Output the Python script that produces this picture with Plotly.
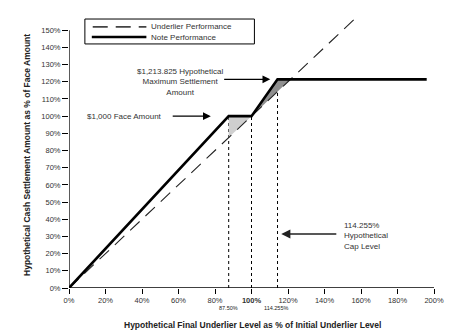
import plotly.graph_objects as go

# Payoff profile data (percent)
buffer_level = 87.5
initial_level = 100.0
cap_level = 114.255
max_settlement = 121.3825

underlier_x = [0, 158]
underlier_y = [0, 158]

note_x = [0, buffer_level, initial_level, cap_level, 196]
note_y = [0, 100, 100, max_settlement, max_settlement]

# Shaded regions between note and underlier
light_x = [buffer_level, initial_level, buffer_level]
light_y = [100, 100, buffer_level]
dark_x = [initial_level, cap_level, max_settlement]
dark_y = [100, max_settlement, max_settlement]

# Axis ticks
y_ticks = list(range(0, 151, 10))
y_ticktext = [f"{v}%" for v in y_ticks]
x_ticks = list(range(0, 201, 20))
x_ticktext = [("<b>100%</b>" if v == 100 else f"{v}%") for v in x_ticks]
extra_x_labels = [(buffer_level, "87.50%"), (cap_level, "114.255%")]

FONT = "Arial, 'Liberation Sans', Helvetica, sans-serif"

fig = go.Figure()

fig.add_trace(go.Scatter(x=light_x, y=light_y, fill="toself", mode="none",
                         fillcolor="#cfcfcf", showlegend=False, hoverinfo="skip"))
fig.add_trace(go.Scatter(x=dark_x, y=dark_y, fill="toself", mode="none",
                         fillcolor="#8f8f8f", showlegend=False, hoverinfo="skip"))

fig.add_trace(go.Scatter(x=underlier_x, y=underlier_y, mode="lines",
                         name="Underlier Performance",
                         line=dict(color="#222222", width=1.1, dash="13px,8px"),
                         showlegend=False))
fig.add_trace(go.Scatter(x=note_x, y=note_y, mode="lines",
                         name="Note Performance",
                         line=dict(color="black", width=2.6),
                         showlegend=False))

shapes = []
# dotted guides from axis up to note payoff
for xv, yv in [(buffer_level, 100), (initial_level, 100), (cap_level, max_settlement)]:
    shapes.append(dict(type="line", x0=xv, x1=xv, y0=0, y1=yv, xref="x", yref="y",
                       line=dict(color="black", width=1, dash="dot"), layer="below"))
# axis lines
shapes.append(dict(type="line", x0=0, x1=200, y0=0, y1=0, xref="x", yref="y",
                   line=dict(color="black", width=1.3)))
shapes.append(dict(type="line", x0=0, x1=0, y0=0, y1=150, xref="x", yref="y",
                   line=dict(color="black", width=1.3)))
# legend box and samples
shapes.append(dict(type="rect", x0=8.7, x1=101.6, y0=142.0, y1=156.5, xref="x", yref="y",
                   line=dict(color="black", width=1), fillcolor="white"))
shapes.append(dict(type="line", x0=13.0, x1=42.4, y0=151.9, y1=151.9, xref="x", yref="y",
                   line=dict(color="#444444", width=1.8, dash="15px,8px")))
shapes.append(dict(type="line", x0=12.5, x1=42.4, y0=146.0, y1=146.0, xref="x", yref="y",
                   line=dict(color="black", width=2.6)))

annotations = []
afont = dict(family=FONT, size=8, color="#333333")
annotations.append(dict(x=44.0, y=151.9, xref="x", yref="y", text="Underlier Performance",
                        showarrow=False, xanchor="left", yanchor="middle", font=afont))
annotations.append(dict(x=44.0, y=146.0, xref="x", yref="y", text="Note Performance",
                        showarrow=False, xanchor="left", yanchor="middle", font=afont))

# callouts
annotations.append(dict(x=61.0, y=120.0, xref="x", yref="y",
                        text="$1,213.825 Hypothetical<br>Maximum Settlement<br>Amount",
                        showarrow=False, align="center", font=afont))
annotations.append(dict(x=110.3, y=max_settlement, ax=84.2, ay=max_settlement,
                        xref="x", yref="y", axref="x", ayref="y", text="",
                        showarrow=True, arrowhead=2, arrowsize=1.3, arrowwidth=1.2,
                        arrowcolor="black"))
annotations.append(dict(x=51.8, y=100, xref="x", yref="y", text="$1,000 Face Amount",
                        showarrow=False, xanchor="right", font=afont))
annotations.append(dict(x=77.7, y=100, ax=56.0, ay=100, xref="x", yref="y",
                        axref="x", ayref="y", text="", showarrow=True, arrowhead=2,
                        arrowsize=1.3, arrowwidth=1.2, arrowcolor="black"))
annotations.append(dict(x=149.5, y=30.5, xref="x", yref="y",
                        text="114.255%<br>Hypothetical<br>Cap Level",
                        showarrow=False, xanchor="left", align="left", font=afont))
annotations.append(dict(x=116.3, y=31.4, ax=147.3, ay=31.4, xref="x", yref="y",
                        axref="x", ayref="y", text="", showarrow=True, arrowhead=2,
                        arrowsize=1.3, arrowwidth=1.4, arrowcolor="#222222"))

# extra level labels below the x axis
for xv, txt in extra_x_labels:
    annotations.append(dict(x=xv, y=-0.056, xref="x", yref="paper", text=txt,
                            showarrow=False, yanchor="top",
                            xanchor="center" if xv < 100 else "right",
                            xshift=0 if xv < 100 else 12,
                            font=dict(family=FONT, size=5.5, color="#222222")))

# axis titles
annotations.append(dict(x=-0.136, y=0.485, xref="paper", yref="paper",
                        text="<b>Hypothetical Cash Settlement Amount as % of Face Amount</b>",
                        textangle=-90, showarrow=False,
                        font=dict(family=FONT, size=8.5, color="#222222")))
annotations.append(dict(x=0.503, y=-0.135, xref="paper", yref="paper",
                        text="<b>Hypothetical Final Underlier Level as % of Initial Underlier Level</b>",
                        showarrow=False, yanchor="middle",
                        font=dict(family=FONT, size=8.5, color="#222222")))

fig.update_layout(
    width=456, height=335,
    margin=dict(l=69, r=19, t=13, b=47),
    paper_bgcolor="white", plot_bgcolor="white",
    font=dict(family=FONT, size=7.5, color="#333333"),
    shapes=shapes, annotations=annotations,
    showlegend=False,
)
fig.update_xaxes(range=[0, 200], tickvals=x_ticks, ticktext=x_ticktext,
                 showgrid=False, zeroline=False, showline=False,
                 ticks="outside", ticklen=5, tickcolor="black", tickwidth=1,
                 tickfont=dict(family=FONT, size=7.5, color="#333333"))
fig.update_yaxes(range=[0, 160], tickvals=y_ticks, ticktext=y_ticktext,
                 showgrid=False, zeroline=False, showline=False,
                 ticks="outside", ticklen=6, tickcolor="black", tickwidth=1,
                 tickfont=dict(family=FONT, size=7.5, color="#333333"))

fig.write_html("out.html")
